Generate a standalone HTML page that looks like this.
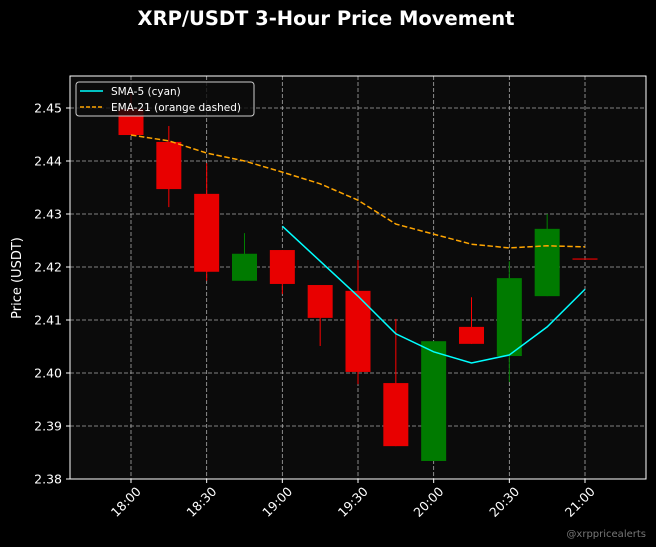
<!DOCTYPE html>
<html><head><meta charset="utf-8"><style>
html,body{margin:0;padding:0;background:#000;}
svg{display:block;font-family:"DejaVu Sans","Liberation Sans",sans-serif;}
</style></head><body>
<svg id="chart" width="656" height="547" viewBox="0 0 656 547">
<rect width="656" height="547" fill="#000"/>
<text x="326" y="25" text-anchor="middle" fill="#fff" font-size="19.5" font-weight="bold">XRP/USDT 3-Hour Price Movement</text>
<rect x="70" y="76" width="576" height="403" fill="#0b0b0b"/>
<g id="grid"></g>
<g id="candles"></g>
<g id="lines"></g>
<rect x="70" y="76" width="576" height="403" fill="none" stroke="#fff" stroke-width="1"/>
<g id="axes"></g>
<text transform="translate(21,278) rotate(-90)" text-anchor="middle" fill="#fff" font-size="13">Price (USDT)</text>
<g>
<rect x="76" y="82" width="178" height="34" rx="3" fill="#0b0b0b" fill-opacity="0.8" stroke="#ccc"/>
<line x1="80" y1="91" x2="103" y2="91" stroke="#00ffff" stroke-width="1.5"/>
<text x="111" y="95" fill="#fff" font-size="10.5">SMA-5 (cyan)</text>
<line x1="80" y1="107" x2="103" y2="107" stroke="#ffa500" stroke-width="1.5" stroke-dasharray="4,2"/>
<text x="111" y="111" fill="#fff" font-size="10.5">EMA-21 (orange dashed)</text>
</g>
<text x="646" y="537" text-anchor="end" fill="#777" font-size="10">@xrppricealerts</text>
</svg>
<script>
const times = ["18:00","18:15","18:30","18:45","19:00","19:15","19:30","19:45","20:00","20:15","20:30","20:45","21:00"];
const opens = [2.4498,2.4436,2.4338,2.4174,2.4232,2.4166,2.4155,2.3981,2.3834,2.4087,2.4032,2.4145,2.4215];
const highs = [2.4527,2.4466,2.4396,2.4264,2.4232,2.4166,2.4213,2.4102,2.4060,2.4143,2.4211,2.4300,2.4215];
const lows = [2.4449,2.4313,2.4174,2.4174,2.4149,2.4051,2.3979,2.3862,2.3834,2.4055,2.3983,2.4145,2.4215];
const closes = [2.4449,2.4347,2.4191,2.4225,2.4168,2.4104,2.4002,2.3862,2.4060,2.4055,2.4179,2.4272,2.4215];
const sma5 = [null,null,null,null,2.4277,2.4211,2.4145,2.4074,2.4040,2.4019,2.4034,2.4087,2.4158];
const ema21 = [2.4449,2.4438,2.4415,2.4400,2.4379,2.4357,2.4326,2.4281,2.4262,2.4243,2.4236,2.4240,2.4238];
const yTicks = [2.38,2.39,2.40,2.41,2.42,2.43,2.44,2.45];
const xTickIdx = [0,2,4,6,8,10,12];

const NS="http://www.w3.org/2000/svg";
const xs = i => 131 + i*(454/12);
const ys = v => 479 - (v-2.38)*5300;
function mk(tag, attrs, parent){const e=document.createElementNS(NS,tag);for(const k in attrs)e.setAttribute(k,attrs[k]);document.getElementById(parent).appendChild(e);return e;}

yTicks.forEach(v=>{
  const y=ys(v);
  const g=mk('line',{x1:70,x2:646,y1:y,y2:y,stroke:'#aaa','stroke-width':0.8,'stroke-dasharray':'4,2'},'grid');
  
  
  const t=mk('line',{x1:66,x2:70,y1:y,y2:y,stroke:'#fff'},'axes');
  
  
  const l=mk('text',{x:62,y:y+4.5,'text-anchor':'end',fill:'#fff','font-size':12.5},'axes');
  l.textContent=v.toFixed(2);
  
  
});
xTickIdx.forEach(i=>{
  const x=xs(i);
  const g=mk('line',{x1:x,x2:x,y1:76,y2:479,stroke:'#aaa','stroke-width':0.8,'stroke-dasharray':'4,2'},'grid');
  
  
  const t=mk('line',{x1:x,x2:x,y1:479,y2:483,stroke:'#fff'},'axes');
  
  
  const l=mk('text',{transform:`translate(${x-2},${505}) rotate(-45)`,'text-anchor':'middle',fill:'#fff','font-size':12.5},'axes');
  l.textContent=times[i];
  
  
});
times.forEach((t,i)=>{
  const x=xs(i), up=closes[i]>opens[i];
  const col=up?'#008000':'#ff0000';
  const w=mk('line',{x1:x,x2:x,y1:ys(highs[i]),y2:ys(lows[i]),stroke:col,'stroke-width':1},'candles');
  
  
  const top=ys(Math.max(opens[i],closes[i])), bot=ys(Math.min(opens[i],closes[i]));
  const h=bot-top;
  const b=mk('rect',{x:x-12.5,y:h<1.2?top-0.6:top,width:25,height:Math.max(h,1.2),fill:up?'#007a00':'#e80000'},'candles');
  
  
});
function path(arr){let d='';arr.forEach((v,i)=>{if(v==null)return;d+=(d?'L':'M')+xs(i)+','+ys(v);});return d;}
const s=mk('path',{d:path(sma5),fill:'none',stroke:'#00ffff','stroke-width':1.5},'lines');


const e=mk('path',{d:path(ema21),fill:'none',stroke:'#ffa500','stroke-width':1.5,'stroke-dasharray':'5.5,2.5'},'lines');


</script>
</body></html>
